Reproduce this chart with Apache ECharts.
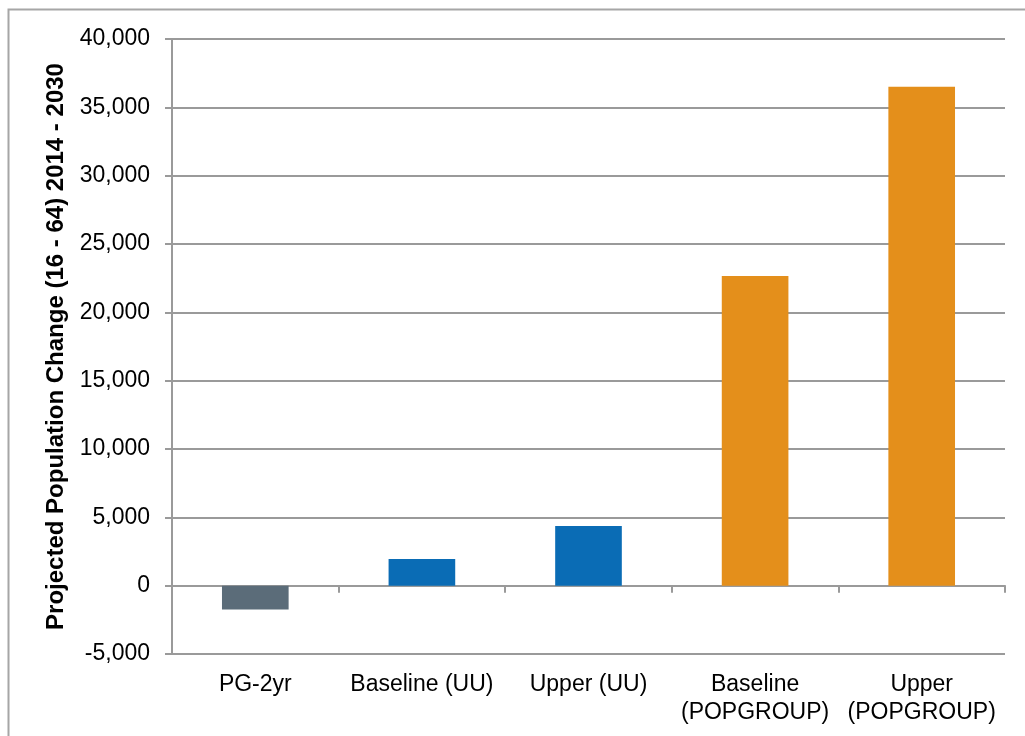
<!DOCTYPE html>
<html>
<head>
<meta charset="utf-8">
<style>
  html, body { margin: 0; padding: 0; background: #fff; }
  #chart { width: 1025px; height: 736px; }
</style>
<script src="https://cdn.jsdelivr.net/npm/echarts@6/dist/echarts.min.js"></script>
</head>
<body>
<div id="chart"></div>
<script>
// categories and values
const categories = ['PG-2yr', 'Baseline (UU)', 'Upper (UU)', 'Baseline\n(POPGROUP)', 'Upper\n(POPGROUP)'];
const values = [-1750, 1950, 4370, 22650, 36500];
const barColors = ['#5b6c79', '#0a6cb5', '#0a6cb5', '#e48f1b', '#e48f1b'];
const yTicks = { min: -5000, max: 40000, step: 5000 };
const yTitle = 'Projected Population Change (16 - 64) 2014 - 2030';

const chart = echarts.init(document.getElementById('chart'));

const font = 'Liberation Sans, Arial, sans-serif';
const axisGray = '#9a9a9a';

const option = {
    animation: false,
    textStyle: { fontFamily: font },
    graphic: [
        {
            type: 'rect',
            shape: { x: 8.5, y: 9.5, width: 1040, height: 760 },
            style: { fill: 'none', stroke: '#a6a6a6', lineWidth: 2 },
            silent: true
        }
    ],
    grid: { left: 172, right: 20, top: 39, bottom: 82, containLabel: false, outerBoundsMode: 'none' },
    xAxis: [
        {
            // axis line and ticks sitting on zero
            type: 'category',
            data: categories,
            axisLine: { onZero: true, lineStyle: { color: axisGray, width: 2 } },
            axisTick: { show: true, length: 7, lineStyle: { color: axisGray, width: 2 } },
            axisLabel: { show: false }
        },
        {
            // labels at the bottom of the plot
            type: 'category',
            data: categories,
            position: 'bottom',
            axisLine: { show: false, onZero: false },
            axisTick: { show: false },
            axisLabel: {
                interval: 0,
                margin: 17,
                color: '#000',
                fontSize: 23,
                lineHeight: 28,
                fontFamily: font
            }
        }
    ],
    yAxis: {
        type: 'value',
        min: yTicks.min,
        max: yTicks.max,
        interval: yTicks.step,
        name: yTitle,
        nameLocation: 'middle',
        nameGap: 102,
        nameTextStyle: { fontSize: 24, fontWeight: 'bold', color: '#000', fontFamily: font },
        axisLine: { show: true, lineStyle: { color: axisGray, width: 2 } },
        axisTick: { show: true, length: 7, lineStyle: { color: axisGray, width: 2 } },
        axisLabel: {
            margin: 22,
            color: '#000',
            fontSize: 23,
            fontFamily: font,
            formatter: v => v.toLocaleString('en-US')
        },
        splitLine: { lineStyle: { color: axisGray, width: 2 } }
    },
    series: [
        {
            type: 'bar',
            xAxisIndex: 0,
            barWidth: '40%',
            data: values.map((v, i) => ({ value: v, itemStyle: { color: barColors[i] } }))
        }
    ]
};

chart.setOption(option);
</script>
</body>
</html>
